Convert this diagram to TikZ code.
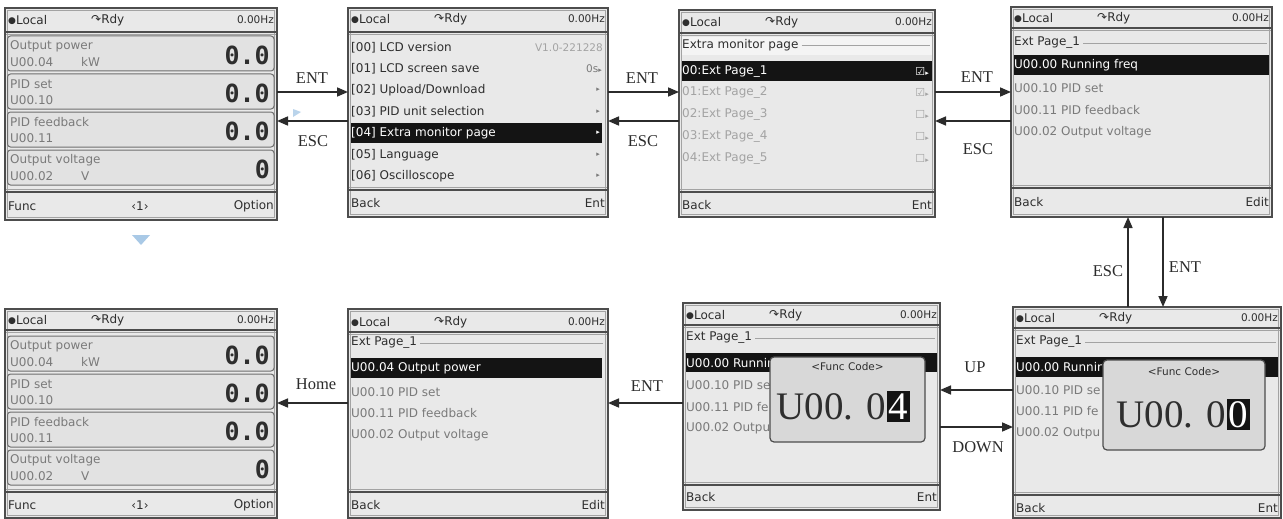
\documentclass[tikz,border=0pt]{standalone}
\usepackage{fontspec}
\usetikzlibrary{arrows.meta,calc}
\newfontfamily\lcdfam{DejaVu Sans}
\newfontfamily\lblfam{Liberation Serif}
\newfontfamily\bigfam{DejaVu Sans Mono}
\definecolor{lcdbg}{HTML}{E9E9E9}
\definecolor{lcdframe}{HTML}{4D4D4D}
\definecolor{txtdark}{HTML}{2E2E2E}
\definecolor{txtgrey}{HTML}{7A7A7A}
\definecolor{txtlight}{HTML}{A3A3A3}
\definecolor{hlblack}{HTML}{141414}
\definecolor{boxline}{HTML}{6E6E6E}
\definecolor{boxbg}{HTML}{E2E2E2}
\definecolor{popbg}{HTML}{D8D8D8}
\definecolor{arrcol}{HTML}{2B2B2B}
\definecolor{lightbox}{HTML}{F4F4F4}
\definecolor{blueish}{HTML}{A9C9E6}
\newcommand{\lcdsz}{\lcdfam\fontsize{12}{14}\selectfont}
\newcommand{\LcdHead}[4]{%
  \node[ltx, anchor=west] (#1-loc) at (3,#3) {\raisebox{1.2pt}{\fontsize{9}{9}\selectfont●}Local};
  \node[ltx, anchor=west] (#1-rdy) at (86,#3) {↷Rdy};
  \node[hz, anchor=east] (#1-hz) at (#2-3,#3) {0.00Hz};
  \draw[divline] (1,#4) -- (#2-1,#4);
  \draw[divthin] (1,#4+2.5) -- (#2-1,#4+2.5);
}
\newcommand{\LcdFoot}[6]{%
  \draw[divthin] (1,#3-2.5) -- (#2-1,#3-2.5);
  \draw[divline] (1,#3) -- (#2-1,#3);
  \node[ltx, anchor=west] (#1-fl) at (3,#4) {#5};
  \node[ltx, anchor=east] (#1-fr) at (#2-3,#4) {#6};
}
\newcommand{\HomeBox}[7]{%
  \draw[hbox] (2.5,#3) rectangle (#2-3,#3+35);
  \node[lgr, anchor=west] (#1-a) at (5,#3+10) {#4};
  \node[lgr, anchor=west] (#1-b) at (5,#3+26) {#5};
  \node[lgr, anchor=west] (#1-u) at (76,#3+26) {#6};
  \node[bigval, anchor=east] (#1-v) at (#2-7,#3+19) {#7};
}
\newcommand{\ExtTitle}[4]{%
  \node[ltx, anchor=west] (#1-t) at (3,#3) {#4};
  \draw[divthin] ([xshift=3pt]#1-t.east) -- (#2-5,#3);
}
\newcommand{\SmTri}{{\fontsize{7}{7}\selectfont▸}}
\newcommand{\BoxOn}{{\fontsize{11}{12}\selectfont☑}\SmTri}
\newcommand{\BoxOff}{{\fontsize{11}{12}\selectfont☐}\SmTri}
\begin{document}
\begin{tikzpicture}[x=1pt,y=-1pt,
  lcd/.style={draw=lcdframe, line width=1.6pt, fill=lcdbg, inner sep=0pt, outer sep=0pt},
  ltx/.style={inner sep=0pt, font=\lcdsz, text=txtdark},
  lgr/.style={ltx, text=txtgrey},
  llt/.style={ltx, text=txtlight},
  lhl/.style={ltx, text=white},
  hz/.style={ltx, font=\lcdfam\fontsize{10.5}{12}\selectfont},
  tri/.style={inner sep=0pt, font=\lcdfam\fontsize{7}{7}\selectfont, text=txtgrey},
  divline/.style={draw=lcdframe, line width=1.5pt},
  divthin/.style={draw=txtlight, line width=0.6pt},
  hbar/.style={fill=hlblack},
  hbox/.style={draw=boxline, fill=boxbg, line width=1pt, rounded corners=3pt},
  bigval/.style={inner sep=0pt, font=\bigfam\bfseries\fontsize{25}{26}\selectfont, text=txtdark},
  popup/.style={draw=lcdframe, line width=1.2pt, fill=popbg, rounded corners=4pt},
  poptitle/.style={ltx, font=\lcdfam\fontsize{10.5}{12}\selectfont},
  popcode/.style={inner sep=0pt, font=\lblfam\fontsize{39}{40}\selectfont, text=txtdark},
  arr/.style={draw=arrcol, line width=1.6pt, -{Triangle[length=11pt,width=9pt]}},
  lab/.style={inner sep=0pt, font=\lblfam\fontsize{16.5}{18}\selectfont, text=arrcol}]
\useasboundingbox (0,0) rectangle (1283,519);

% ---------- s1 home ----------
\begin{scope}[shift={(5,8)}]
  \node[lcd, minimum width=272pt, minimum height=212pt, anchor=north west] (s1) at (0,0) {};
  \draw[divthin] (2.5,2.5) rectangle (269.5,209.5);
  \LcdHead{s1}{272}{12}{24}
  \HomeBox{s1b1}{272}{28}{Output power}{U00.04}{kW}{0.0}
  \HomeBox{s1b2}{272}{66}{PID set}{U00.10}{}{0.0}
  \HomeBox{s1b3}{272}{104}{PID feedback}{U00.11}{}{0.0}
  \HomeBox{s1b4}{272}{142}{Output voltage}{U00.02}{V}{0}
  \LcdFoot{s1}{272}{184}{198}{Func}{Option}
  \node[ltx] (s1-pg) at (135,198) {‹1›};
\end{scope}

% ---------- s2 menu ----------
\begin{scope}[shift={(348,8)}]
  \node[lcd, minimum width=260pt, minimum height=209pt, anchor=north west] (s2) at (0,0) {};
  \draw[divthin] (2.5,2.5) rectangle (257.5,206.5);
  \LcdHead{s2}{260}{11}{24}
  \fill[hbar] (2.5,115) rectangle (254,135);
  \node[ltx, anchor=west] (s2-r0) at (3,40) {[00] LCD version};
  \node[hz, text=txtlight, anchor=east] (s2-v0) at (255,40) {V1.0-221228};
  \node[ltx, anchor=west] (s2-r1) at (3,61) {[01] LCD screen save};
  \node[hz, text=txtgrey, anchor=east] (s2-v1) at (254,61) {0s\SmTri};
  \node[ltx, anchor=west] (s2-r2) at (3,82) {[02] Upload/Download};
  \node[tri, anchor=east] (s2-a2) at (252,82) {▸};
  \node[ltx, anchor=west] (s2-r3) at (3,104) {[03] PID unit selection};
  \node[tri, anchor=east] (s2-a3) at (252,104) {▸};
  \node[lhl, anchor=west] (s2-r4) at (3,125) {[04] Extra monitor page};
  \node[tri, text=white, anchor=east] (s2-a4) at (252,125) {▸};
  \node[ltx, anchor=west] (s2-r5) at (3,147) {[05] Language};
  \node[tri, anchor=east] (s2-a5) at (252,147) {▸};
  \node[ltx, anchor=west] (s2-r6) at (3,168) {[06] Oscilloscope};
  \node[tri, anchor=east] (s2-a6) at (252,168) {▸};
  \LcdFoot{s2}{260}{182}{195}{Back}{Ent}
\end{scope}

% ---------- s3 extra monitor page ----------
\begin{scope}[shift={(679,10)}]
  \node[lcd, minimum width=256pt, minimum height=207pt, anchor=north west] (s3) at (0,0) {};
  \draw[divthin] (2.5,2.5) rectangle (253.5,204.5);
  \LcdHead{s3}{256}{12}{23}
  \fill[lightbox] (2.5,27) rectangle (253,45);
  \ExtTitle{s3}{256}{35}{Extra monitor page}
  \fill[hbar] (2.5,51) rectangle (253,71);
  \node[lhl, anchor=west] (s3-r0) at (3,61) {00:Ext Page\_1};
  \node[ltx, text=white, anchor=east] (s3-c0) at (250,61) {\BoxOn};
  \node[llt, anchor=west] (s3-r1) at (3,82) {01:Ext Page\_2};
  \node[llt, anchor=east] (s3-c1) at (250,82) {\BoxOn};
  \node[llt, anchor=west] (s3-r2) at (3,104) {02:Ext Page\_3};
  \node[llt, anchor=east] (s3-c2) at (250,104) {\BoxOff};
  \node[llt, anchor=west] (s3-r3) at (3,126) {03:Ext Page\_4};
  \node[llt, anchor=east] (s3-c3) at (250,126) {\BoxOff};
  \node[llt, anchor=west] (s3-r4) at (3,148) {04:Ext Page\_5};
  \node[llt, anchor=east] (s3-c4) at (250,148) {\BoxOff};
  \LcdFoot{s3}{256}{182}{195}{Back}{Ent}
\end{scope}

% ---------- s4 ext page 1 ----------
\begin{scope}[shift={(1011,7)}]
  \node[lcd, minimum width=261pt, minimum height=210pt, anchor=north west] (s4) at (0,0) {};
  \draw[divthin] (2.5,2.5) rectangle (258.5,207.5);
  \LcdHead{s4}{261}{11}{21}
  \ExtTitle{s4}{261}{36}{Ext Page\_1}
  \fill[hbar] (2.5,48) rectangle (258,68);
  \node[lhl, anchor=west] (s4-r0) at (3,58) {U00.00 Running freq};
  \node[lgr, anchor=west] (s4-r1) at (3,81) {U00.10 PID set};
  \node[lgr, anchor=west] (s4-r2) at (3,103) {U00.11 PID feedback};
  \node[lgr, anchor=west] (s4-r3) at (3,125) {U00.02 Output voltage};
  \LcdFoot{s4}{261}{181}{195}{Back}{Edit}
\end{scope}

% ---------- s5 home ----------
\begin{scope}[shift={(5,309)}]
  \node[lcd, minimum width=272pt, minimum height=209pt, anchor=north west] (s5) at (0,0) {};
  \draw[divthin] (2.5,2.5) rectangle (269.5,206.5);
  \LcdHead{s5}{272}{11}{21}
  \HomeBox{s5b1}{272}{27}{Output power}{U00.04}{kW}{0.0}
  \HomeBox{s5b2}{272}{65}{PID set}{U00.10}{}{0.0}
  \HomeBox{s5b3}{272}{103}{PID feedback}{U00.11}{}{0.0}
  \HomeBox{s5b4}{272}{141}{Output voltage}{U00.02}{V}{0}
  \LcdFoot{s5}{272}{183}{196}{Func}{Option}
  \node[ltx] (s5-pg) at (135,196) {‹1›};
\end{scope}

% ---------- s6 ext page with output power ----------
\begin{scope}[shift={(348,309)}]
  \node[lcd, minimum width=260pt, minimum height=209pt, anchor=north west] (s6) at (0,0) {};
  \draw[divthin] (2.5,2.5) rectangle (257.5,206.5);
  \LcdHead{s6}{260}{13}{23}
  \ExtTitle{s6}{260}{34}{Ext Page\_1}
  \fill[hbar] (2.5,49) rectangle (254,69);
  \node[lhl, anchor=west] (s6-r0) at (3,59) {U00.04 Output power};
  \node[lgr, anchor=west] (s6-r1) at (3,83) {U00.10 PID set};
  \node[lgr, anchor=west] (s6-r2) at (3,104) {U00.11 PID feedback};
  \node[lgr, anchor=west] (s6-r3) at (3,126) {U00.02 Output voltage};
  \LcdFoot{s6}{260}{183}{196}{Back}{Edit}
\end{scope}

% ---------- s7 func code U00.04 ----------
\begin{scope}[shift={(683,303)}]
  \node[lcd, minimum width=257pt, minimum height=207pt, anchor=north west] (s7) at (0,0) {};
  \draw[divthin] (2.5,2.5) rectangle (254.5,204.5);
  \LcdHead{s7}{257}{12}{22}
  \ExtTitle{s7}{257}{35}{Ext Page\_1}
  \fill[hbar] (2.5,50) rectangle (254,69);
  \node[lhl, anchor=west] (s7-r0) at (3,60) {U00.00 Runnir};
  \node[lgr, anchor=west] (s7-r1) at (3,82) {U00.10 PID se};
  \node[lgr, anchor=west] (s7-r2) at (3,104) {U00.11 PID fe};
  \node[lgr, anchor=west] (s7-r3) at (3,125) {U00.02 Outpu};
  \draw[popup] (87,54) rectangle (242,139);
  \node[poptitle] (s7-pt) at (164.5,64) {<Func Code>};
  \node[popcode, anchor=base east] (s7-pc) at (203,116) {U00. 0};
  \node[popcode, fill=hlblack, text=white, inner xsep=1.5pt, inner ysep=2.5pt, anchor=base west] (s7-pd) at (204,116) {4};
  \LcdFoot{s7}{257}{182}{194}{Back}{Ent}
\end{scope}

% ---------- s8 func code U00.00 ----------
\begin{scope}[shift={(1013,307)}]
  \node[lcd, minimum width=268pt, minimum height=211pt, anchor=north west] (s8) at (0,0) {};
  \draw[divthin] (2.5,2.5) rectangle (265.5,208.5);
  \LcdHead{s8}{268}{11}{21}
  \ExtTitle{s8}{268}{35}{Ext Page\_1}
  \fill[hbar] (2.5,50) rectangle (265,70);
  \node[lhl, anchor=west] (s8-r0) at (3,60) {U00.00 Runnir};
  \node[lgr, anchor=west] (s8-r1) at (3,83) {U00.10 PID se};
  \node[lgr, anchor=west] (s8-r2) at (3,104) {U00.11 PID fe};
  \node[lgr, anchor=west] (s8-r3) at (3,126) {U00.02 Outpu};
  \draw[popup] (90,53) rectangle (252,143);
  \node[poptitle] (s8-pt) at (171,65) {<Func Code>};
  \node[popcode, anchor=base east] (s8-pc) at (213,120) {U00. 0};
  \node[popcode, fill=hlblack, text=white, inner xsep=1.5pt, inner ysep=2.5pt, anchor=base west] (s8-pd) at (214,120) {0};
  \LcdFoot{s8}{268}{188}{201}{Back}{Ent}
\end{scope}

% ---------- connectors ----------
\coordinate (rowENT) at (0,92);
\coordinate (rowESC) at (0,121);
\coordinate (rowUP) at (0,390);
\coordinate (rowDN) at (0,427);
\coordinate (rowB) at (0,403);
\coordinate (colESC) at (1128,0);
\coordinate (colENT) at (1163,0);

\draw[arr] (s1.east |- rowENT) -- (s2.west |- rowENT);
\draw[arr] (s2.west |- rowESC) -- (s1.east |- rowESC);
\draw[arr] (s2.east |- rowENT) -- (s3.west |- rowENT);
\draw[arr] (s3.west |- rowESC) -- (s2.east |- rowESC);
\draw[arr] (s3.east |- rowENT) -- (s4.west |- rowENT);
\draw[arr] (s4.west |- rowESC) -- (s3.east |- rowESC);
\draw[arr] (s8.north -| colESC) -- (s4.south -| colESC);
\draw[arr] (s4.south -| colENT) -- (s8.north -| colENT);
\draw[arr] (s8.west |- rowUP) -- (s7.east |- rowUP);
\draw[arr] (s7.east |- rowDN) -- (s8.west |- rowDN);
\draw[arr] (s7.west |- rowB) -- (s6.east |- rowB);
\draw[arr] (s6.west |- rowB) -- (s5.east |- rowB);

\node[lab] (l1) at (312,78) {ENT};
\node[lab] (l2) at (313,141) {ESC};
\node[lab] (l3) at (642,78) {ENT};
\node[lab] (l4) at (643,141) {ESC};
\node[lab] (l5) at (977,77) {ENT};
\node[lab] (l6) at (978,149) {ESC};
\node[lab] (l7) at (1108,271) {ESC};
\node[lab] (l8) at (1185,267) {ENT};
\node[lab] (l9) at (975,367) {UP};
\node[lab] (l10) at (978,447) {DOWN};
\node[lab] (l11) at (647,386) {ENT};
\node[lab] (l12) at (316,384) {Home};

% faint blue marks
\fill[blueish] (132,235) -- (150,235) -- (141,245) -- cycle;
\fill[blueish, opacity=0.8] (293,109) -- (301,112) -- (293,117) -- cycle;
\end{tikzpicture}
\end{document}
